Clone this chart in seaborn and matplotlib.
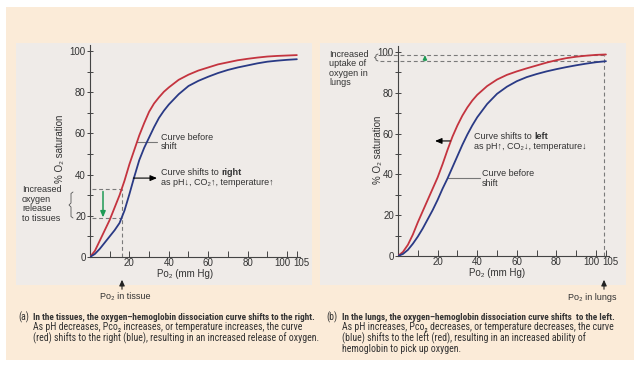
import numpy as np
import pandas as pd
import matplotlib
matplotlib.use("Agg")
import matplotlib.pyplot as plt
import matplotlib.transforms as mtransforms
from matplotlib import font_manager as fm
import seaborn as sns
from matplotlib.patches import Rectangle, FancyArrowPatch
from matplotlib.lines import Line2D

# ---------------- data ----------------
po2 = [0, 2.5, 5, 7.5, 10, 12.5, 15, 17.5, 20, 22.5, 25, 27.5, 30, 32.5, 35,
       37.5, 40, 45, 50, 55, 60, 65, 70, 75, 80, 85, 90, 95, 100, 105]
# (a) tissues: red = before shift, blue = shifted right
tissue_red = [0, 3, 8, 13, 18, 24, 30, 37, 45, 52, 59, 65, 70.5, 74.5, 77.5,
              80.2, 82.3, 86, 88.5, 90.5, 92, 93.5, 94.5, 95.5, 96.2, 96.8, 97.3, 97.6, 97.8, 98]
tissue_blue = [0, 1.5, 4, 7, 10, 13, 16.5, 22.5, 30.5, 39, 47, 53, 58, 63, 67.5,
               71, 74, 79, 83, 85.5, 87.5, 89.3, 90.8, 92, 93, 94, 94.8, 95.3, 95.7, 96]
# (b) lungs: blue = before shift, red = shifted left
lung_red = [0, 2, 5.5, 10.5, 16.5, 22, 27.5, 33, 38.5, 45, 52, 58.5, 64, 68.8, 72.8,
            76.2, 79, 83.3, 86.5, 88.8, 90.5, 92, 93.4, 94.8, 96, 97, 97.7, 98.2, 98.6, 98.8]
lung_blue = [0, 1, 3, 6, 9.5, 13.5, 18, 22.5, 27.5, 33, 38, 43.5, 49, 54.5, 59.5,
             64, 68, 74.5, 79.5, 83, 85.7, 87.7, 89.2, 90.5, 91.6, 92.6, 93.5, 94.3, 95, 95.5]
po2_tissue = 16
po2_lungs = 104

x_ticks = [10, 20, 30, 40, 50, 60, 70, 80, 90, 100, 105]
x_ticklabels = ["", "20", "", "40", "", "60", "", "80", "", "100", "105"]
y_ticks = [0, 10, 20, 30, 40, 50, 60, 70, 80, 90, 100]
y_ticklabels = ["0", "", "20", "", "40", "", "60", "", "80", "", "100"]

# ---------------- style ----------------
sns.set_style("ticks")
FONT = ["Liberation Sans", "DejaVu Sans"]
plt.rcParams["font.family"] = FONT

# pick a condensed face for the captions if one is installed
names = {f.name for f in fm.fontManager.ttflist}
cond_stretch = "normal"
if "Liberation Sans Narrow" in names:
    NARROW = ["Liberation Sans Narrow", "DejaVu Sans"]
elif "Roboto Condensed" in names:
    NARROW = ["Roboto Condensed", "DejaVu Sans"]
elif any(f.name == "DejaVu Sans" and f.stretch in ("condensed", "semi-condensed", 500, 300)
         for f in fm.fontManager.ttflist):
    NARROW = ["DejaVu Sans"]
    cond_stretch = "condensed"
elif "Open Sans Condensed" in names:
    NARROW = ["Open Sans Condensed", "DejaVu Sans"]
else:
    NARROW = ["Liberation Sans", "DejaVu Sans"]

RED = "#c4343f"
BLUE = "#2a3a85"
PEACH = "#fbebd8"
GRAYBOX = "#efebe8"
DASH = "#7a7a7a"
GREEN = "#1f9a55"
TXT = "#333333"

W, H = 640, 370
fig = plt.figure(figsize=(6.4, 3.7), dpi=100)
fig.patch.set_facecolor("white")


def P(x, y):
    return (x / W, 1 - y / H)


def rect(x0, y0, x1, y1, color):
    fig.patches.append(Rectangle((x0 / W, 1 - y1 / H), (x1 - x0) / W, (y1 - y0) / H,
                                 transform=fig.transFigure, facecolor=color,
                                 edgecolor="none", zorder=-10))


rect(6, 7, 634, 360, PEACH)
rect(16, 43, 312, 285, GRAYBOX)
rect(320, 43, 626, 285, GRAYBOX)

ax1 = fig.add_axes([90 / W, 113 / H, 209.8 / W, 212.2 / H])
ax2 = fig.add_axes([398 / W, 114 / H, 210.9 / W, 210.1 / H])

df = pd.DataFrame({"po2": po2, "t_red": tissue_red, "t_blue": tissue_blue,
                   "l_red": lung_red, "l_blue": lung_blue})

for ax, rc, bc in [(ax1, "t_red", "t_blue"), (ax2, "l_red", "l_blue")]:
    ax.set_facecolor("none")
    sns.lineplot(data=df, x="po2", y=rc, color=RED, lw=1.3, ax=ax, zorder=3)
    sns.lineplot(data=df, x="po2", y=bc, color=BLUE, lw=1.3, ax=ax, zorder=3)
    ax.set_xlim(0, 106.5)
    ax.set_ylim(0, 103)
    for s in ["top", "right"]:
        ax.spines[s].set_visible(False)
    for s in ["left", "bottom"]:
        ax.spines[s].set_color("#444444")
        ax.spines[s].set_linewidth(0.8)
    ax.set_xticks(x_ticks)
    ax.set_xticklabels(x_ticklabels)
    ax.set_yticks(y_ticks)
    ax.set_yticklabels(y_ticklabels)
    ax.tick_params(axis="x", direction="in", length=4.5, width=0.7, color="#444444",
                   pad=1.0, labelsize=7, labelcolor=TXT)
    ax.tick_params(axis="y", direction="inout", length=5, width=0.7, color="#444444",
                   pad=0.5, labelsize=7, labelcolor=TXT)
    ax.set_xlabel("Po\u2082 (mm Hg)", fontsize=7, color=TXT, family=FONT)
    ax.set_ylabel("% O\u2082 saturation", fontsize=7, color=TXT, family=FONT)
    labs = ax.get_xticklabels()
    labs[-2].set_horizontalalignment("right")
    labs[-2].set_transform(labs[-2].get_transform() +
                           mtransforms.ScaledTranslation(3 / 100, 0, fig.dpi_scale_trans))
    labs[-1].set_horizontalalignment("left")
    labs[-1].set_transform(labs[-1].get_transform() +
                           mtransforms.ScaledTranslation(-4 / 100, 0, fig.dpi_scale_trans))

ax1.xaxis.set_label_coords(0.455, -0.058)
ax2.xaxis.set_label_coords(0.47, -0.058)
ax1.yaxis.set_label_coords(-0.12, 0.51)
ax2.yaxis.set_label_coords(-0.073, 0.505)

AF = dict(fontsize=6.5, color=TXT, family=FONT)

# ---------------- panel (a) annotations ----------------
yr = np.interp(po2_tissue, po2, tissue_red)
yb = np.interp(po2_tissue, po2, tissue_blue)
dk = dict(color=DASH, lw=0.8, ls=(0, (3.5, 2.5)), zorder=2)
ax1.plot([po2_tissue, po2_tissue], [0, yr], **dk)
ax1.plot([1, po2_tissue], [yr, yr], **dk)
ax1.plot([1, po2_tissue], [yb, yb], **dk)
ax1.annotate("", xy=(6.6, yb + 0.3), xytext=(6.6, yr - 1),
             arrowprops=dict(arrowstyle="-|>,head_length=0.35,head_width=0.15",
                             color=GREEN, lw=1.1, shrinkA=0, shrinkB=0))
ax1.plot([24, 34], [55.8, 55.8], color="#777777", lw=0.8)
ax1.text(36, 55.8, "Curve before\nshift", ha="left", va="center", linespacing=1.05, **AF)
ax1.annotate("", xy=(34, 38.3), xytext=(22, 38.3),
             arrowprops=dict(arrowstyle="-|>,head_length=0.4,head_width=0.17",
                             color="black", lw=0.8, shrinkA=0, shrinkB=0))
t1 = ax1.text(36, 40.8, "Curve shifts to ", ha="left", va="center", **AF)
ax1.annotate("right", xy=(1, 0), xycoords=t1, va="bottom", ha="left",
             fontweight="bold", **AF)
ax1.text(36, 36.0, "as pH\u2193, CO\u2082\u2191, temperature\u2191", ha="left", va="center", **AF)

fig.text(*P(22, 204), "Increased\noxygen\nrelease\nto tissues", ha="left", va="center",
         linespacing=1.08, **AF)
bx, by0, by1 = 71, 192, 218
bm = (by0 + by1) / 2
brace = [(bx + 2, by0), (bx, by0 + 1.5), (bx, bm - 2), (bx - 2, bm), (bx, bm + 2),
         (bx, by1 - 1.5), (bx + 2, by1)]
fig.lines.append(Line2D([P(*p)[0] for p in brace], [P(*p)[1] for p in brace],
                        transform=fig.transFigure, color="#555555", lw=0.6))

# ---------------- panel (b) annotations ----------------
lr = np.interp(po2_lungs, po2, lung_red)
lb = np.interp(po2_lungs, po2, lung_blue)
ax2.plot([po2_lungs, po2_lungs], [0, lr], **dk)
ax2.plot([-9, po2_lungs], [lr, lr], clip_on=False, **dk)
ax2.plot([-9, po2_lungs], [lb, lb], clip_on=False, **dk)
ax2.annotate("", xy=(13.6, lr - 0.3), xytext=(13.6, lb + 0.3),
             arrowprops=dict(arrowstyle="-|>,head_length=0.25,head_width=0.12",
                             color=GREEN, lw=0.9, shrinkA=0, shrinkB=0))
ax2.annotate("", xy=(18.7, 56.4), xytext=(26.3, 56.4),
             arrowprops=dict(arrowstyle="-|>,head_length=0.4,head_width=0.17",
                             color="black", lw=0.8, shrinkA=0, shrinkB=0))
t2 = ax2.text(38.4, 58.5, "Curve shifts to ", ha="left", va="center", **AF)
ax2.annotate("left", xy=(1, 0), xycoords=t2, va="bottom", ha="left",
             fontweight="bold", **AF)
ax2.text(38.4, 53.7, "as pH\u2191, CO\u2082\u2193, temperature\u2193", ha="left", va="center", **AF)
ax2.plot([25.3, 41.4], [38.2, 38.2], color="#777777", lw=0.8)
ax2.text(42.4, 38.0, "Curve before\nshift", ha="left", va="center", linespacing=1.05, **AF)

fig.text(*P(329, 68.5), "Increased\nuptake of\noxygen in\nlungs", ha="left", va="center",
         linespacing=1.08, **AF)
bx, by0, by1 = 376, 54, 61
bm = (by0 + by1) / 2
brace = [(bx + 2, by0), (bx, by0 + 1), (bx, bm - 1), (bx - 1.5, bm), (bx, bm + 1),
         (bx, by1 - 1), (bx + 2, by1)]
fig.lines.append(Line2D([P(*p)[0] for p in brace], [P(*p)[1] for p in brace],
                        transform=fig.transFigure, color="#555555", lw=0.6))

# ---------------- arrows below axes ----------------
for xa in (122, 604):
    fig.add_artist(FancyArrowPatch(
        P(xa, 292), P(xa, 277), transform=fig.transFigure,
        arrowstyle="-|>,head_length=3.5,head_width=1.6", color="#222222", lw=0.8))
fig.text(*P(125, 297), "Po\u2082 in tissue", ha="center", va="center", **AF)
fig.text(*P(617, 297), "Po\u2082 in lungs", ha="right", va="center", **AF)

# ---------------- captions ----------------
CF = dict(color=TXT, family=NARROW, fontstretch=cond_stretch, va="center", ha="left")
capL = [("In the tissues, the oxygen\u2013hemoglobin dissociation curve shifts to the right.", True),
        ("As pH decreases, Pco\u2082 increases, or temperature increases, the curve", False),
        ("(red) shifts to the right (blue), resulting in an increased release of oxygen.", False)]
capR = [("In the lungs, the oxygen\u2013hemoglobin dissociation curve shifts  to the left.", True),
        ("As pH increases, Pco\u2082 decreases, or temperature decreases, the curve", False),
        ("(blue) shifts to the left (red), resulting in an increased ability of", False),
        ("hemoglobin to pick up oxygen.", False)]
ys = [317, 327.5, 338, 348.5]
texts_b, texts_n = [], []
ta = fig.text(*P(18, ys[0]), "(a)", fontsize=6.5, **CF)
tb = fig.text(*P(326, ys[0]), "(b)", fontsize=6.5, **CF)
for (s, b), y in zip(capL, ys):
    t = fig.text(*P(33, y), s, fontsize=6.5, fontweight="bold" if b else "normal", **CF)
    (texts_b if b else texts_n).append(t)
for (s, b), y in zip(capR, ys):
    t = fig.text(*P(342, y), s, fontsize=6.5, fontweight="bold" if b else "normal", **CF)
    (texts_b if b else texts_n).append(t)

fig.canvas.draw()
r = fig.canvas.get_renderer()
kb = 285 / texts_b[0].get_window_extent(r).width
kn = 287 / texts_n[1].get_window_extent(r).width
for t in texts_b:
    t.set_fontsize(min(7.2, 6.5 * kb))
for t in texts_n + [ta, tb]:
    t.set_fontsize(min(7.2, 6.5 * kn))

fig.savefig("out.png", dpi=100, facecolor="white")
